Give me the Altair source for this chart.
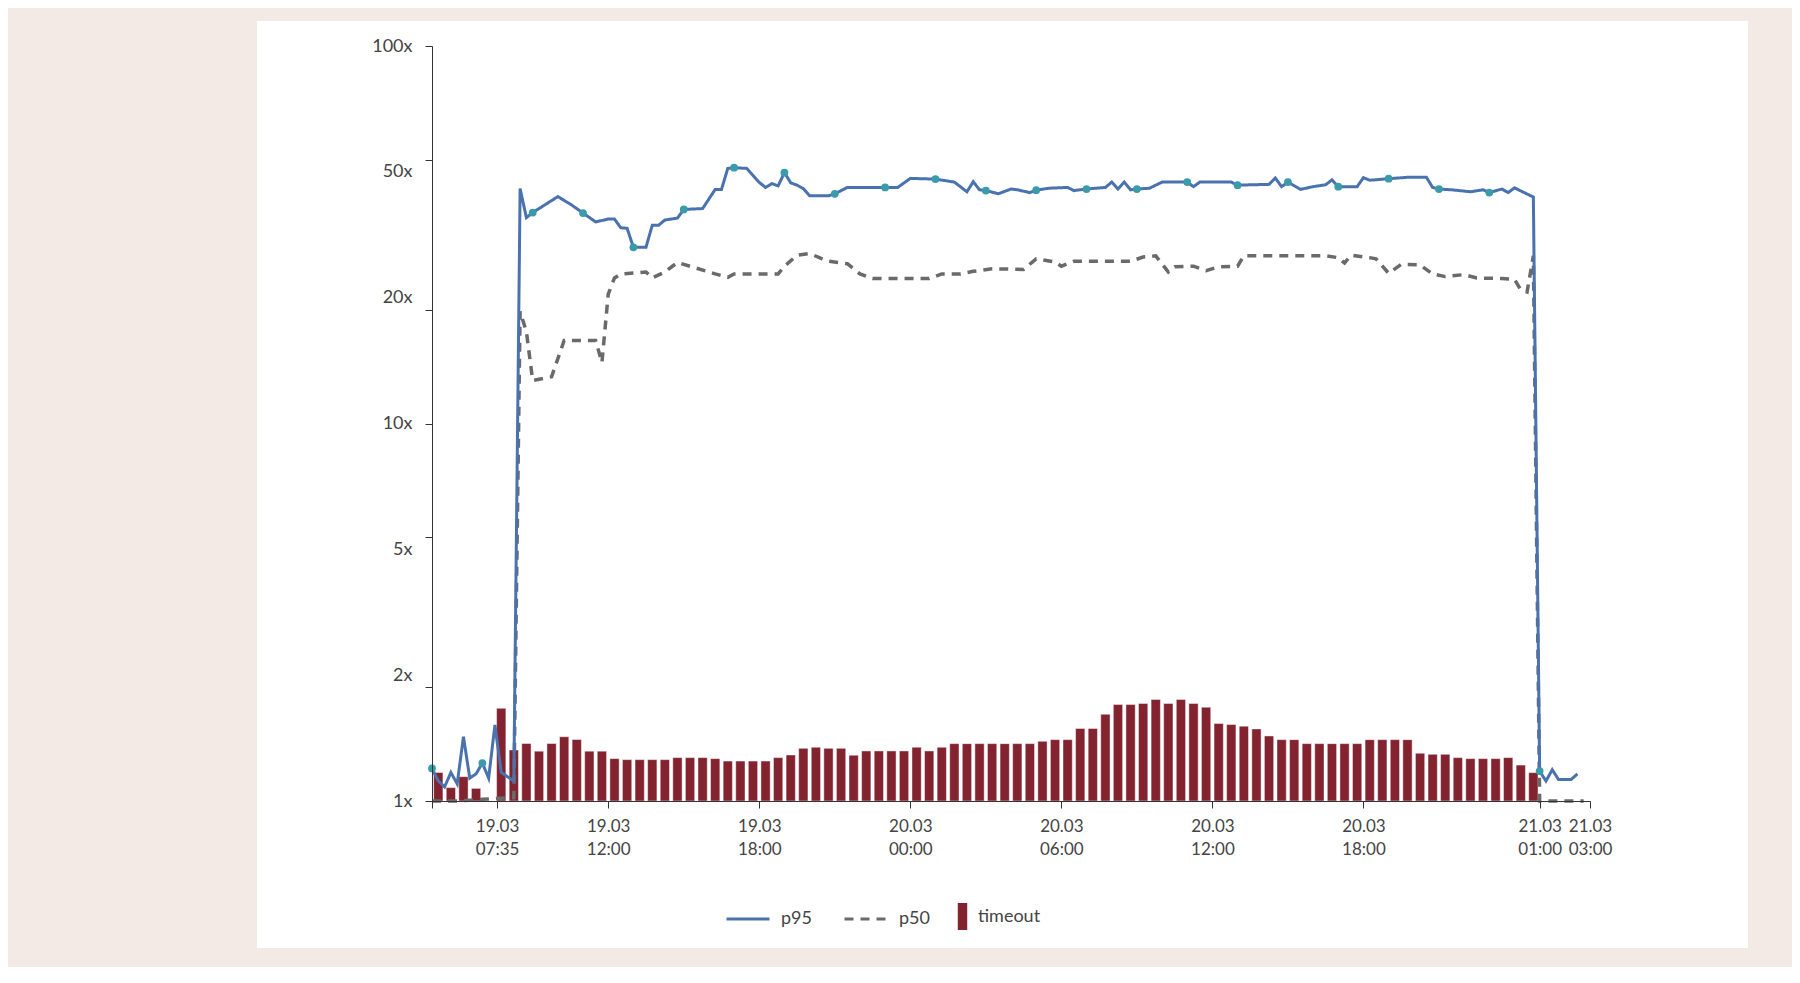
import altair as alt
import pandas as pd

START = pd.Timestamp("2024-03-19 05:00")

# p95 latency multiplier, vertices (hours after 19.03 05:00, value)
p95_hours = [0, 0.25, 0.5, 0.75, 1.0, 1.25, 1.5, 1.75, 2.0, 2.25, 2.5, 2.75, 3.25, 3.5, 3.75,
             4.0, 5.0, 5.5, 6.0, 6.5, 7.0, 7.25, 7.5, 7.75, 8.0, 8.5, 8.75, 9.0, 9.25, 9.75,
             10.0, 10.75, 11.25, 11.5, 11.75, 12.0, 12.5, 13.0, 13.25, 13.5, 13.75, 14.0, 14.25,
             14.5, 14.75, 15.0, 15.75, 16.0, 16.5, 18.0, 18.5, 19.0, 20.0, 20.75, 21.25, 21.5,
             21.75, 22.0, 22.5, 23.0, 23.25, 23.75, 24.0, 24.5, 25.25, 25.5, 26.0, 26.75, 27.0,
             27.25, 27.5, 27.75, 28.0, 28.5, 29.0, 30.0, 30.25, 30.5, 31.75, 32.0, 33.25, 33.5,
             33.75, 34.0, 34.5, 35.0, 35.5, 35.75, 36.0, 36.75, 37.0, 37.25, 38.0, 38.75, 39.5,
             39.75, 40.0, 40.5, 41.25, 41.75, 42.0, 42.5, 42.75, 43.0, 43.75, 44.0, 44.25, 44.5,
             44.75, 45.25, 45.5]
p95_values = [1.22, 1.13, 1.09, 1.19, 1.11, 1.48, 1.15, 1.18, 1.26, 1.15, 1.59, 1.19, 1.13, 41.9, 35.1,
              36.2, 39.9, 38.1, 36.1, 34.2, 34.8, 34.8, 33.0, 32.9, 29.3, 29.3, 33.5, 33.5, 34.6, 35.0,
              36.9, 37.1, 41.7, 41.7, 47.4, 47.6, 47.4, 43.5, 42.2, 43.2, 42.6, 46.2, 43.4,
              42.8, 41.9, 40.1, 40.1, 40.6, 42.2, 42.2, 42.2, 44.6, 44.4, 43.6, 41.1, 43.7,
              41.6, 41.4, 40.6, 41.8, 41.6, 40.9, 41.5, 42.0, 42.2, 41.4, 41.8, 42.2, 43.6,
              41.8, 43.6, 41.6, 41.8, 42.0, 43.6, 43.6, 42.4, 43.6, 43.6, 42.8, 43.0, 44.7,
              42.4, 43.6, 41.7, 42.4, 42.9, 44.2, 42.4, 42.4, 44.8, 44.1, 44.5, 44.9, 44.9,
              42.2, 41.8, 41.6, 41.1, 41.6, 40.9, 41.8, 40.9, 42.1, 39.8, 1.20, 1.13, 1.21,
              1.14, 1.14, 1.18]
# points carrying a marker dot
p95_marked_hours = [0, 2.0, 4.0, 6.0, 8.0, 10.0, 12.0, 14.0, 16.0, 18.0, 20.0, 22.0, 24.0,
                    26.0, 28.0, 30.0, 32.0, 34.0, 36.0, 38.0, 40.0, 42.0, 44.0]

# p50 latency multiplier, vertices
p50_hours = [0, 0.5, 1.0, 1.5, 2.0, 2.5, 3.0, 3.25, 3.5, 3.75, 4.0, 4.75, 5.25, 6.5, 6.75, 7.0,
             7.25, 7.5, 8.5, 8.75, 9.25, 9.75, 10.5, 11.25, 11.75, 12.0, 13.75, 14.0, 14.5, 15.0,
             15.5, 15.75, 16.5, 17.0, 17.5, 19.75, 20.25, 21.0, 21.5, 22.25, 23.5, 24.0, 24.75,
             25.0, 25.5, 27.75, 28.25, 28.75, 29.25, 29.5, 30.25, 30.75, 31.25, 32.0, 32.25,
             35.5, 36.0, 36.25, 36.5, 37.25, 37.5, 38.0, 38.5, 39.25, 39.75, 40.25, 41.0, 41.5,
             42.5, 43.0, 43.25, 43.5, 43.75, 44.0, 45.75]
p50_values = [1.0, 1.0, 1.0, 1.005, 1.01, 1.015, 1.02, 1.02, 19.8, 17.5, 13.0, 13.3, 16.6, 16.6, 14.5, 22.0,
              24.3, 24.9, 25.2, 24.3, 25.2, 26.7, 25.8, 24.9, 24.4, 24.9, 24.9, 26.1, 27.9, 28.2,
              27.3, 26.9, 26.5, 24.9, 24.2, 24.2, 24.9, 24.9, 25.3, 25.7, 25.6, 27.3, 26.8,
              26.1, 26.9, 26.9, 27.6, 27.8, 25.2, 26.0, 26.1, 25.4, 26.0, 26.1, 27.8,
              27.8, 27.5, 26.6, 27.9, 27.5, 27.3, 25.0, 26.4, 26.3, 24.9, 24.5, 24.8, 24.3,
              24.2, 24.1, 22.6, 22.3, 27.8, 1.0, 1.0]

# timeout, one bar per 30-minute bin starting 19.03 05:00 (None = no bar)
timeout_values = [1.19, 1.085, 1.16, 1.08, None, 1.76, 1.365, 1.42, 1.355, 1.42,
                  1.48, 1.455, 1.355, 1.355, 1.295, 1.287, 1.287, 1.287, 1.287, 1.303,
                  1.303, 1.303, 1.295, 1.276, 1.276, 1.276, 1.276, 1.303, 1.324, 1.379,
                  1.388, 1.379, 1.379, 1.322, 1.357, 1.357, 1.357, 1.357, 1.388, 1.357,
                  1.388, 1.419, 1.419, 1.419, 1.419, 1.419, 1.419, 1.419, 1.439, 1.454,
                  1.454, 1.556, 1.556, 1.697, 1.801, 1.801, 1.812, 1.857, 1.812, 1.857,
                  1.812, 1.772, 1.604, 1.594, 1.578, 1.552, 1.487, 1.454, 1.454, 1.419,
                  1.419, 1.419, 1.419, 1.419, 1.454, 1.454, 1.454, 1.454, 1.338, 1.329,
                  1.329, 1.303, 1.295, 1.295, 1.295, 1.303, 1.245, 1.189]

x_tick_times = [(19, 5, 0), (19, 7, 35), (19, 12, 0), (19, 18, 0), (20, 0, 0), (20, 6, 0),
                (20, 12, 0), (20, 18, 0), (21, 1, 0), (21, 3, 0)]
y_ticks = [1, 2, 5, 10, 20, 50, 100]
y_label_shift = {50: 12, 20: -12, 5: 12, 2: -12}

FONT = "Lato"
TEXT = "#444444"
BLUE = "#4a72ae"
GREY = "#6a6a6a"
TEAL = "#3a9bab"
RED = "#82232f"

p95 = pd.DataFrame({"t": START + pd.to_timedelta(p95_hours, unit="h"), "v": p95_values})
p95["series"] = "p95"
p95["mark"] = [1 if h in p95_marked_hours else 0 for h in p95_hours]
p50 = pd.DataFrame({"t": START + pd.to_timedelta(p50_hours, unit="h"), "v": p50_values})
p50["series"] = "p50"
bars = pd.DataFrame({"v": timeout_values})
bars["t"] = START + pd.to_timedelta(bars.index * 30, unit="min")
bars["t2"] = bars["t"] + pd.Timedelta(minutes=30)
bars["kind"] = "timeout"
bars = bars.dropna()


def dt(d, h, m):
    return alt.DateTime(year=2024, month=3, date=d, hours=h, minutes=m)


xscale = alt.Scale(domain=[dt(19, 5, 0), dt(21, 3, 0)])
xaxis = alt.Axis(
    values=[dt(*v) for v in x_tick_times],
    labelExpr="timeFormat(datum.value, '%H:%M') == '05:00' ? '' : "
              "[timeFormat(datum.value, '%d.%m'), timeFormat(datum.value, '%H:%M')]",
    labelFlush=False, labelOverlap=False, labelAlign="center", labelBaseline="top",
    labelLineHeight=23, labelPadding=10, tickSize=7, grid=False, zindex=2,
)
x = alt.X("t:T", scale=xscale, axis=xaxis, title=None)

yaxis = alt.Axis(
    values=y_ticks, labelExpr="datum.value + 'x'", grid=False, tickSize=7, labelPadding=13,
    labelOffset={"condition": [{"test": f"datum.value == {k}", "value": v}
                               for k, v in y_label_shift.items()], "value": 0},
    labelFontSize=18, zindex=2,
)
y = alt.Y("v:Q", scale=alt.Scale(type="log", domain=[1, 100], nice=False), axis=yaxis, title=None)

series_domain = ["p95", "p50"]
line_legend = dict(orient="none", legendX=293, legendY=850, direction="horizontal",
                   title=None, symbolType="stroke", symbolSize=1849,
                   symbolStrokeWidth=3, labelOffset=10, columnPadding=26)
color = alt.Color("series:N", scale=alt.Scale(domain=series_domain, range=[BLUE, GREY]),
                  legend=alt.Legend(**line_legend))
dash = alt.StrokeDash("series:N", scale=alt.Scale(domain=series_domain, range=[[1, 0], [9, 7]]),
                      legend=alt.Legend(**line_legend))

panel = alt.Chart(pd.DataFrame({"a": [0]})).mark_rect(color="white").encode(
    x=alt.value(-175), x2=alt.value(1316), y=alt.value(-25), y2=alt.value(902)
)

bar_layer = alt.Chart(bars).mark_bar(xOffset=1.65, x2Offset=-1.65, stroke="#ffffff",
                                     strokeWidth=1, strokeOpacity=0.45).encode(
    x=x, x2="t2:T", y=y, y2=alt.datum(1),
    fill=alt.Fill("kind:N", scale=alt.Scale(domain=["timeout"], range=[RED]),
                  legend=alt.Legend(orient="none", legendX=517, legendY=857, title=None,
                                    symbolType="M-0.35,-1H0.35V1H-0.35Z", symbolSize=729,
                                    symbolStrokeWidth=0, labelOffset=2)),
)

p50_layer = alt.Chart(p50).mark_line(strokeWidth=3.5).encode(x=x, y=y, color=color, strokeDash=dash)
p95_layer = alt.Chart(p95).mark_line(strokeWidth=3).encode(x=x, y=y, color=color, strokeDash=dash)
dots = alt.Chart(p95).transform_filter("datum.mark == 1").mark_circle(
    size=60, color=TEAL, opacity=1).encode(x=x, y=y)

chart = alt.layer(panel, bar_layer, p50_layer, p95_layer, dots).properties(
    width=1158, height=755,
    padding={"left": 424, "top": 38, "right": 202, "bottom": 166},
    autosize=alt.AutoSizeParams(type="none"),
    background="#f3eae5",
).configure_view(stroke=None).configure_axis(
    labelFont=FONT, labelFontSize=17, labelFontWeight=400, labelColor=TEXT,
    domainColor="#333333", tickColor="#333333", domainWidth=1, tickWidth=1,
).configure_legend(
    labelFont=FONT, labelFontSize=18, labelFontWeight=400, labelColor=TEXT,
)

chart.save("out.html", embed_options={"renderer": "svg", "actions": False})
